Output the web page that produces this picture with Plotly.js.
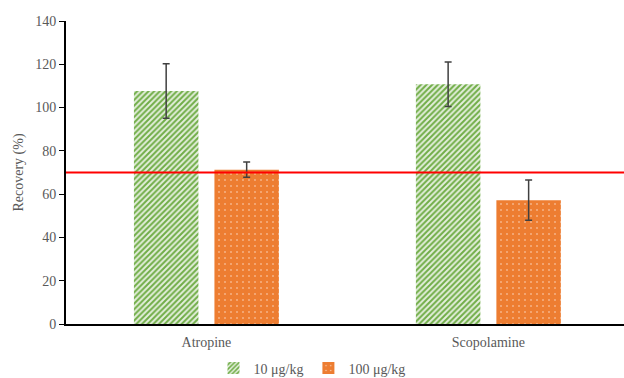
<!DOCTYPE html>
<html>
<head>
<meta charset="utf-8">
<script src="https://cdn.plot.ly/plotly-3.0.1.min.js"></script>
<style>html,body{margin:0;padding:0;background:#fff;}#chart{width:624px;height:378px;}</style>
</head>
<body>
<div id="chart"></div>
<script>
const categories = ["Atropine", "Scopolamine"];
const seriesNames = ["10 μg/kg", "100 μg/kg"];
const low = [107.7, 110.8];
const lowErr = [12.6, 10.3];
const high = [71.3, 57.2];
const highErr = [3.5, 9.3];
const threshold = 70;

const font = "Times New Roman, Liberation Serif, serif";
const grey = "#595959";

const traces = [
  {
    type: "bar", name: seriesNames[0], x: categories, y: low,
    error_y: {type: "data", array: lowErr, visible: true, color: "#404040", thickness: 1.5, width: 3.5},
    marker: {color: "#70AD47", line: {width: 0},
      pattern: {shape: "/", fgcolor: "#70AD47", bgcolor: "#e4efdc", size: 4, solidity: 0.5, fillmode: "replace"}}
  },
  {
    type: "bar", name: seriesNames[1], x: categories, y: high,
    error_y: {type: "data", array: highErr, visible: true, color: "#404040", thickness: 1.5, width: 3.5},
    marker: {color: "#ED7D31", line: {width: 0},
      pattern: {shape: ".", fgcolor: "#fbd9c2", bgcolor: "#ED7D31", size: 6, solidity: 0.06, fillmode: "replace"}}
  }
];

const layout = {
  width: 624, height: 378,
  margin: {l: 66, r: 0, t: 21, b: 54, autoexpand: false},
  paper_bgcolor: "#fff", plot_bgcolor: "#fff",
  font: {family: font, size: 14, color: grey},
  barmode: "group", bargap: 0.429, bargroupgap: 0.199,
  showlegend: true,
  legend: {orientation: "h", xref: "container", x: 0.5, xanchor: "center", yref: "paper", y: -0.094, yanchor: "top",
    font: {family: font, size: 14, color: grey}, itemwidth: 30},
  xaxis: {type: "category", range: [-0.498, 1.481], showline: true, linecolor: "#000", linewidth: 2,
    ticks: "", showgrid: false, zeroline: false, tickfont: {family: font, size: 14, color: grey}, ticklabelstandoff: 4},
  yaxis: {range: [0, 140], dtick: 20, showline: true, linecolor: "#000", linewidth: 2,
    ticks: "outside", ticklen: 5, tickcolor: "#000", tickwidth: 1, showgrid: false, zeroline: false,
    tickfont: {family: font, size: 14, color: grey},
    title: {text: "Recovery (%)", font: {family: font, size: 14, color: grey}, standoff: 8}},
  shapes: [{type: "line", xref: "paper", x0: 0, x1: 1, yref: "y", y0: threshold, y1: threshold,
    line: {color: "#FF0000", width: 2}}]
};

Plotly.newPlot("chart", traces, layout, {displayModeBar: false, staticPlot: true});
</script>
</body>
</html>
